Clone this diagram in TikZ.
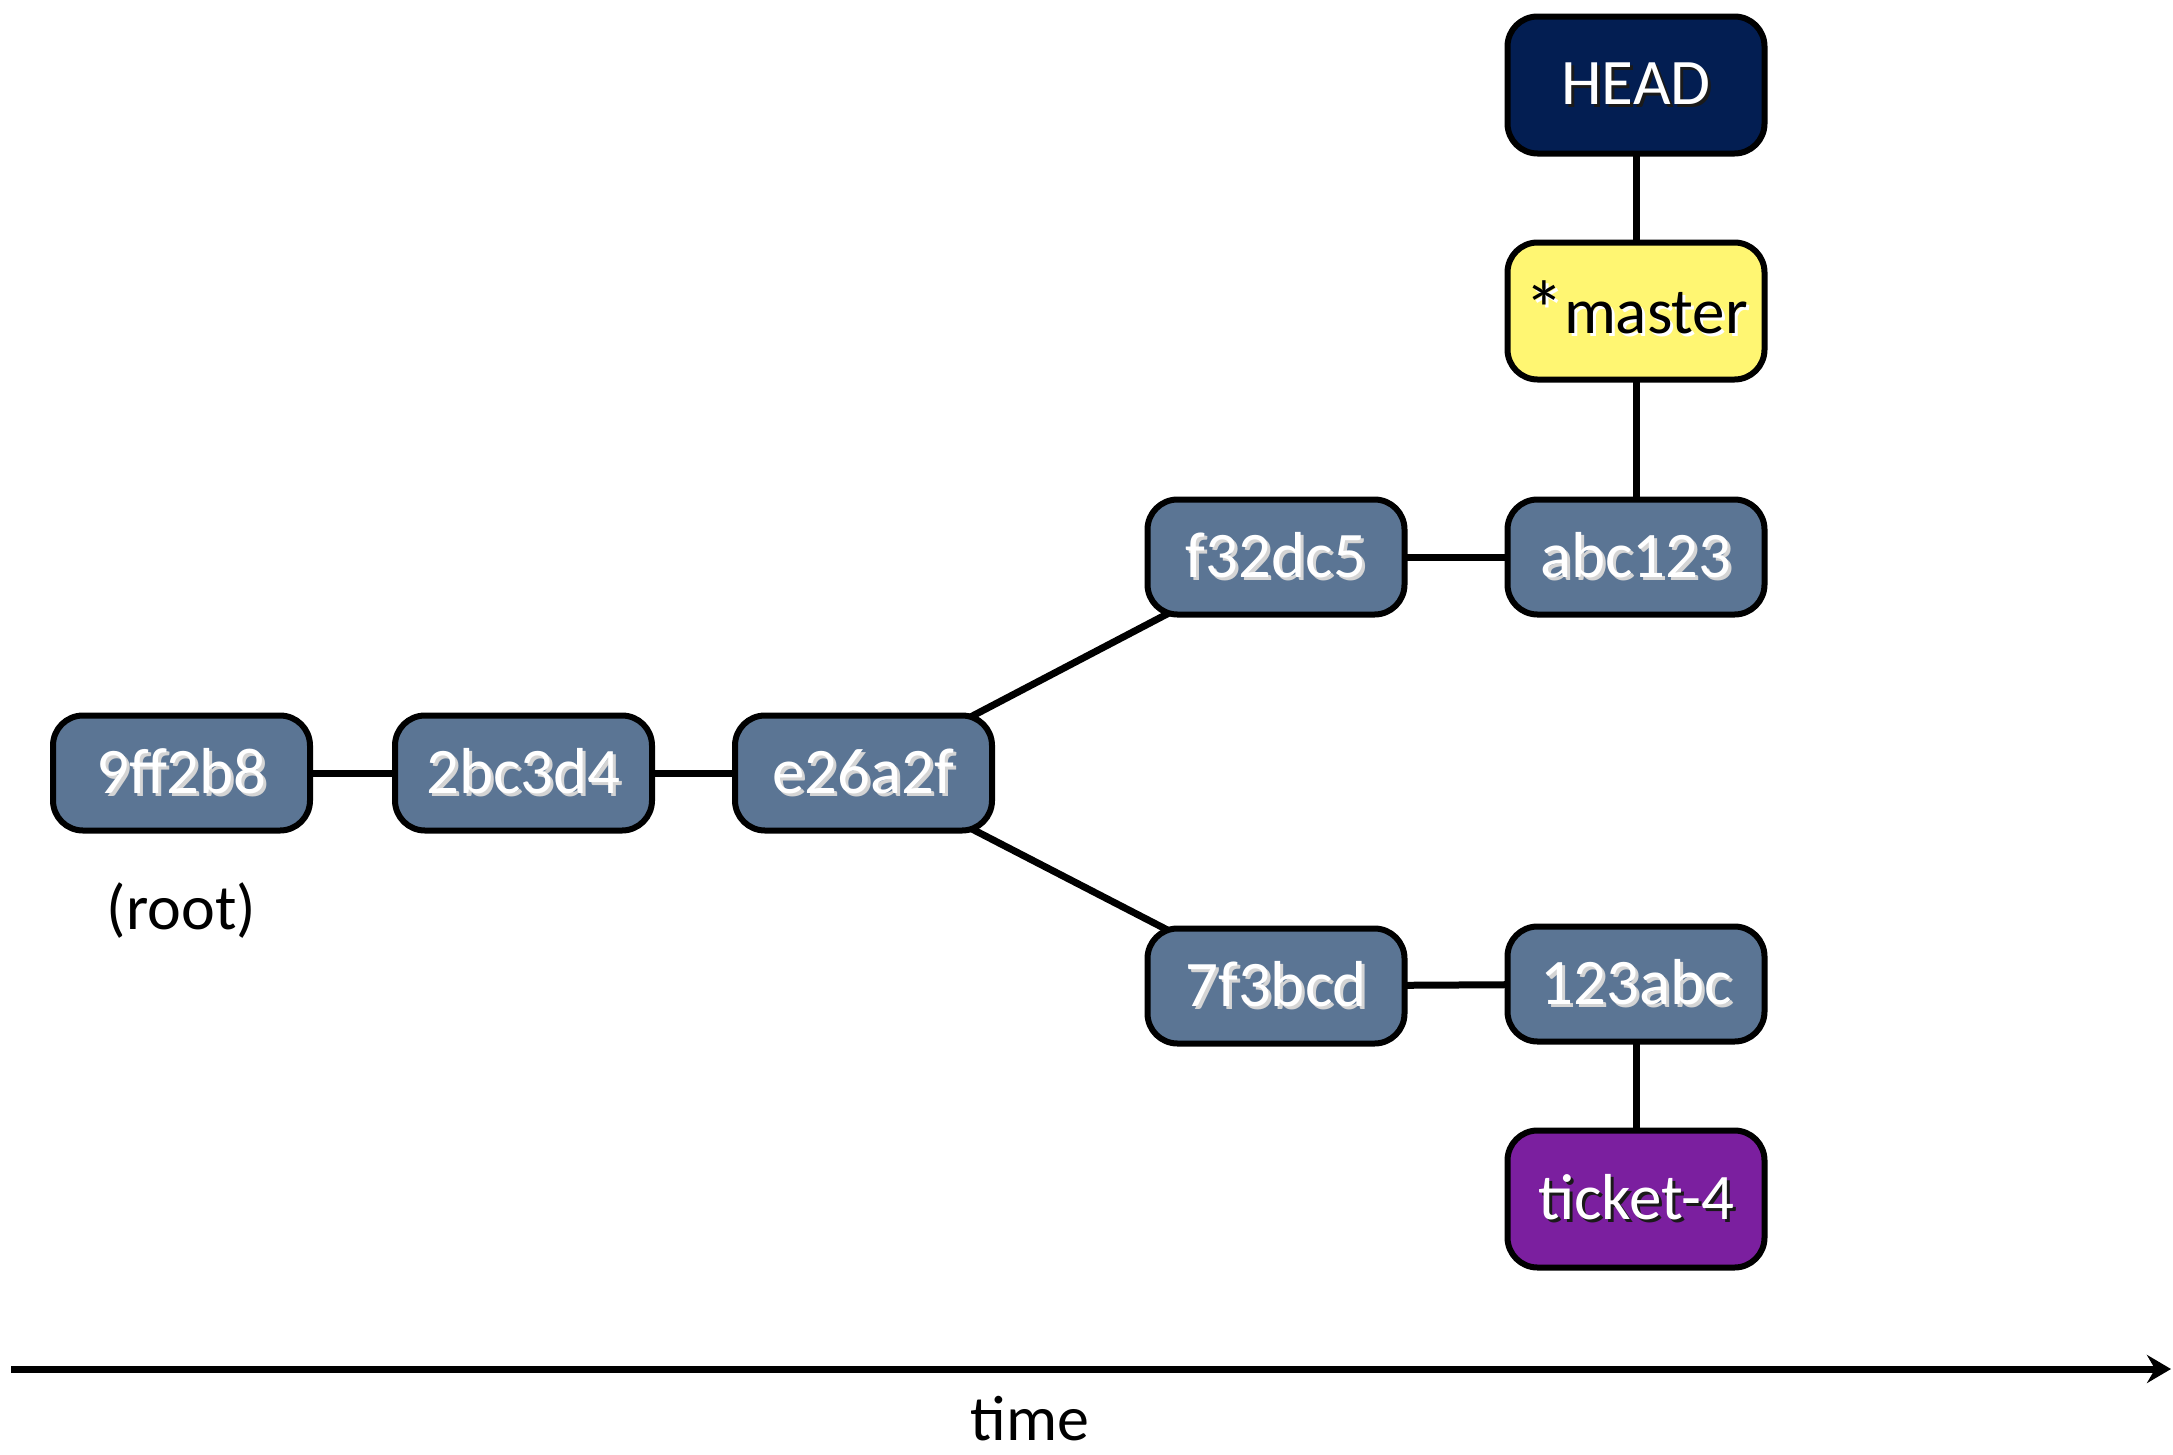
\documentclass[tikz,border=0pt]{standalone}
\usepackage{fontspec}
\setmainfont{Carlito}
\usetikzlibrary{arrows.meta,backgrounds}
\definecolor{commitfill}{HTML}{5B7594}
\definecolor{headfill}{HTML}{031E52}
\definecolor{masterfill}{HTML}{FFF672}
\definecolor{ticketfill}{HTML}{7B1F9F}
\definecolor{lightshadow}{HTML}{D4D4D4}
\definecolor{darkshadow}{HTML}{1A1A1A}
\newcommand\shadowtxt[3]{\makebox[0pt][l]{\hspace{3pt}\raisebox{-3pt}{\textcolor{#2}{#3}}}\textcolor{#1}{#3}}
\begin{document}
\begin{tikzpicture}[x=1pt,y=-1pt,
  commit/.style={draw=black, line width=6pt, rounded corners=30pt, fill=commitfill,
    minimum width=257pt, minimum height=115pt, inner sep=0pt,
    font=\fontsize{65}{70}\selectfont},
  refbox/.style={commit, minimum height=137pt},
  plain/.style={inner sep=0pt, font=\fontsize{64}{70}\selectfont},
  edge/.style={line width=7pt}]
\useasboundingbox (0,0) rectangle (2173,1454);

\node[commit] (c1) at (181.5,773) {\shadowtxt{white}{lightshadow}{9ff2b8}};
\node[commit] (c2) at (523.5,773) {\shadowtxt{white}{lightshadow}{2bc3d4}};
\node[commit] (c3) at (863.5,773) {\shadowtxt{white}{lightshadow}{e26a2f}};
\node[commit] (c4) at (1276,557) {\shadowtxt{white}{lightshadow}{f32dc5}};
\node[commit] (c5) at (1636,557) {\shadowtxt{white}{lightshadow}{abc123}};
\node[commit] (c6) at (1276,986) {\shadowtxt{white}{lightshadow}{7f3bcd}};
\node[commit] (c7) at (1636,984) {\shadowtxt{white}{lightshadow}{123abc}};

\node[refbox, fill=headfill] (head) at (1636,85) {\shadowtxt{white}{darkshadow}{HEAD}};
\node[refbox, fill=masterfill] (master) at (1636,311) {\shadowtxt{black}{white}{{\raisebox{-4pt}{\fontsize{80}{80}\selectfont *}}master}};
\node[refbox, fill=ticketfill] (ticket) at (1636,1199) {\shadowtxt{white}{darkshadow}{ticket-4}};

\node[plain] (root) at (181.5,911) {(root)};
\node[plain] (time) at (1030,1419) {time};

\begin{scope}[on background layer]
\draw[edge] (c1.center) -- (c2.center);
\draw[edge] (c2.center) -- (c3.center);
\draw[edge] (c3.center) -- (c4.center);
\draw[edge] (c3.center) -- (c6.center);
\draw[edge] (c4.center) -- (c5.center);
\draw[edge] (c6.center) -- (c7.center);
\draw[edge] (head.center) -- (master.center);
\draw[edge] (master.center) -- (c5.center);
\draw[edge] (c7.center) -- (ticket.center);
\end{scope}

\coordinate (tstart) at (11,1369);
\coordinate (tend) at (2171,1369);
\draw[line width=7pt, -{Stealth[length=24pt,width=28pt,inset=8pt]}] (tstart) -- (tend);
\end{tikzpicture}
\end{document}
